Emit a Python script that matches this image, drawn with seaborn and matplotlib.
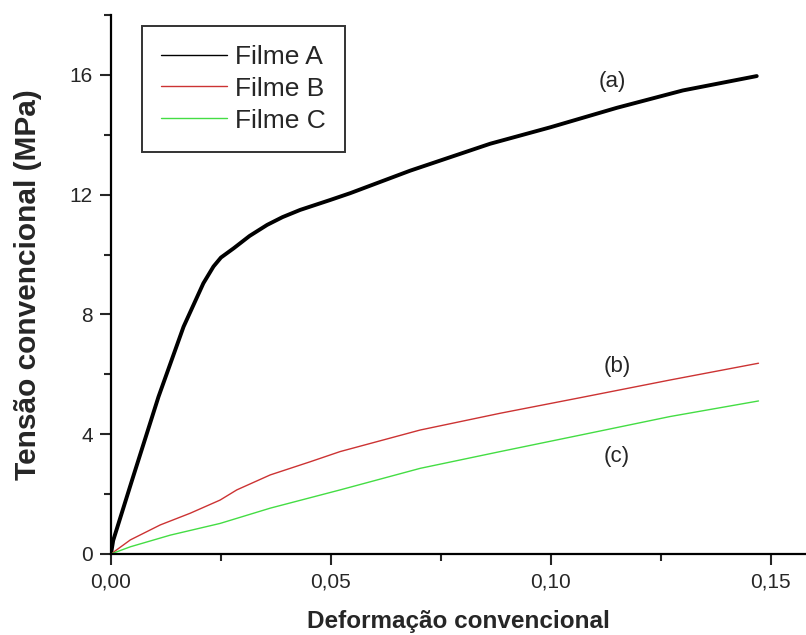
import matplotlib
matplotlib.use("Agg")
import matplotlib.pyplot as plt
import seaborn as sns
import pandas as pd
from matplotlib.ticker import FixedLocator, FixedFormatter, MultipleLocator

# Curvas tensão-deformação
strain_a = [0.0, 0.0005, 0.0048, 0.0108, 0.0165, 0.0210, 0.0233, 0.0250, 0.0279,
            0.0315, 0.0355, 0.0390, 0.0430, 0.0498, 0.0544, 0.0680, 0.0862, 0.0999,
            0.1150, 0.1300, 0.1468]
stress_a = [0.0, 0.45, 2.47, 5.25, 7.59, 9.04, 9.60, 9.90, 10.21,
            10.62, 10.99, 11.25, 11.49, 11.82, 12.05, 12.80, 13.70, 14.25,
            14.90, 15.48, 15.96]

strain_b = [0.0, 0.0044, 0.0112, 0.0180, 0.0248, 0.0286, 0.0362, 0.0453, 0.0521,
            0.0703, 0.0885, 0.1067, 0.1271, 0.1472]
stress_b = [0.0, 0.47, 0.97, 1.36, 1.80, 2.14, 2.64, 3.08, 3.42,
            4.14, 4.70, 5.22, 5.81, 6.37]

strain_c = [0.0, 0.0044, 0.0135, 0.0248, 0.0362, 0.0521, 0.0703, 0.0885, 0.1067,
            0.1271, 0.1472]
stress_c = [0.0, 0.24, 0.63, 1.02, 1.53, 2.14, 2.86, 3.42, 3.97,
            4.59, 5.11]

films = ["Filme A", "Filme B", "Filme C"]
colors = ["#000000", "#cc3333", "#44dd44"]
widths = [2.8, 1.0, 1.0]

x_ticks = [0.0, 0.05, 0.10, 0.15]
x_ticklabels = ["0,00", "0,05", "0,10", "0,15"]
y_ticks = [0, 4, 8, 12, 16]

curve_tags = ["(a)", "(b)", "(c)"]
tag_x = [0.1139, 0.1150, 0.1150]
tag_y = [15.78, 6.26, 3.25]

sns.set_style("ticks")
plt.rcParams["font.family"] = ["Liberation Sans", "DejaVu Sans"]

fig = plt.figure(figsize=(8.06, 6.35), dpi=100)
ax = fig.add_axes([0.1377, 0.1276, 0.8623, 0.8488])

data = [(strain_a, stress_a), (strain_b, stress_b), (strain_c, stress_c)]
for (xs, ys), name, col, lw in zip(data, films, colors, widths):
    df = pd.DataFrame({"strain": xs, "stress": ys})
    sns.lineplot(data=df, x="strain", y="stress", ax=ax, color=col, linewidth=lw,
                 label=name, sort=False, estimator=None)

ax.set_xlim(0, 0.158)
ax.set_ylim(0, 18.0)
ax.xaxis.set_major_locator(FixedLocator(x_ticks))
ax.xaxis.set_major_formatter(FixedFormatter(x_ticklabels))
ax.xaxis.set_minor_locator(MultipleLocator(0.025))
ax.yaxis.set_major_locator(FixedLocator(y_ticks))
ax.yaxis.set_minor_locator(MultipleLocator(2))

ax.tick_params(which="major", direction="out", length=8, width=1.5, labelsize=15, pad=5)
ax.tick_params(which="minor", direction="out", length=5, width=1.5)

for side in ["top", "right"]:
    ax.spines[side].set_visible(False)
for side in ["left", "bottom"]:
    ax.spines[side].set_linewidth(1.6)
    ax.spines[side].set_color("black")

ax.set_xlabel("Deformação convencional", fontsize=17.5, fontweight="bold", labelpad=14)
ax.set_ylabel("Tensão convencional (MPa)", fontsize=21.5, fontweight="bold", labelpad=20)

for t, tx, ty in zip(curve_tags, tag_x, tag_y):
    ax.text(tx, ty, t, fontsize=16, ha="center", va="center")

leg = ax.legend(loc="upper left", bbox_to_anchor=(0.0446, 0.980), borderaxespad=0,
                fontsize=19, frameon=True, fancybox=False, handlelength=2.5,
                labelspacing=0.3, handletextpad=0.3, borderpad=0.72)
leg.get_frame().set_edgecolor("black")
leg.get_frame().set_linewidth(1.4)
for h in leg.get_lines():
    h.set_linewidth(1.0)

fig.savefig("out.png", dpi=100)
